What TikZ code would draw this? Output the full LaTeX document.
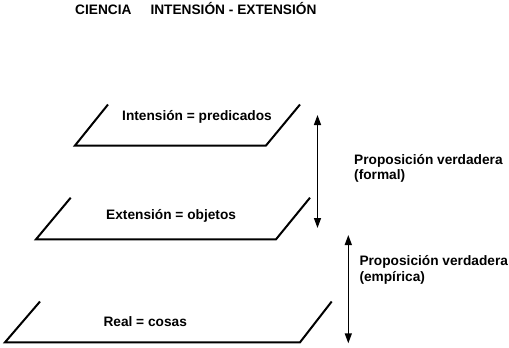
\documentclass[tikz,border=0pt]{standalone}
\usepackage{fontspec}
\setmainfont{Liberation Sans}[BoldFont={Liberation Sans Bold}]
\usetikzlibrary{arrows.meta}
\begin{document}
\begin{tikzpicture}[x=1bp,y=-1bp,
  plane/.style={line width=2bp, line join=miter},
  txt/.style={font=\bfseries\fontsize{13.7bp}{16bp}\selectfont, inner sep=0, anchor=base west},
  dbl/.style={line width=1.4bp, {Triangle[width=7bp,length=10bp]}-{Triangle[width=7bp,length=10bp]}}]
\useasboundingbox (0,0) rectangle (509,347);
% title
\node[txt] (title) at (75,14) {CIENCIA\hspace{19bp}INTENSIÓN - EXTENSIÓN};
% planes
\draw[plane] (108,104.5) -- (75,145.5) -- (266,145.5) -- (300,104.5);
\draw[plane] (70.7,197.7) -- (36,239.3) -- (276,239.3) -- (310,197.7);
\draw[plane] (40,301.5) -- (5,342.3) -- (300,342.3) -- (331.7,301.5);
% plane labels
\node[txt] (int) at (122,120) {Intensión = predicados};
\node[txt] (ext) at (106,219) {Extensión = objetos};
\node[txt] (real) at (103.3,326) {Real = cosas};
% arrows
\coordinate (a1top) at (317.5,115);
\coordinate (a1bot) at (317.5,228);
\coordinate (a2top) at (348.3,235);
\coordinate (a2bot) at (348.3,343.3);
\draw[dbl] (a1top) -- (a1bot);
\draw[dbl] (a2top) -- (a2bot);
% arrow labels
\node[txt] (f1) at (354,164) {Proposición verdadera};
\node[txt] (f2) at (354,179.5) {(formal)};
\node[txt] (e1) at (359.3,265.5) {Proposición verdadera};
\node[txt] (e2) at (359.3,281) {(empírica)};
\end{tikzpicture}
\end{document}
